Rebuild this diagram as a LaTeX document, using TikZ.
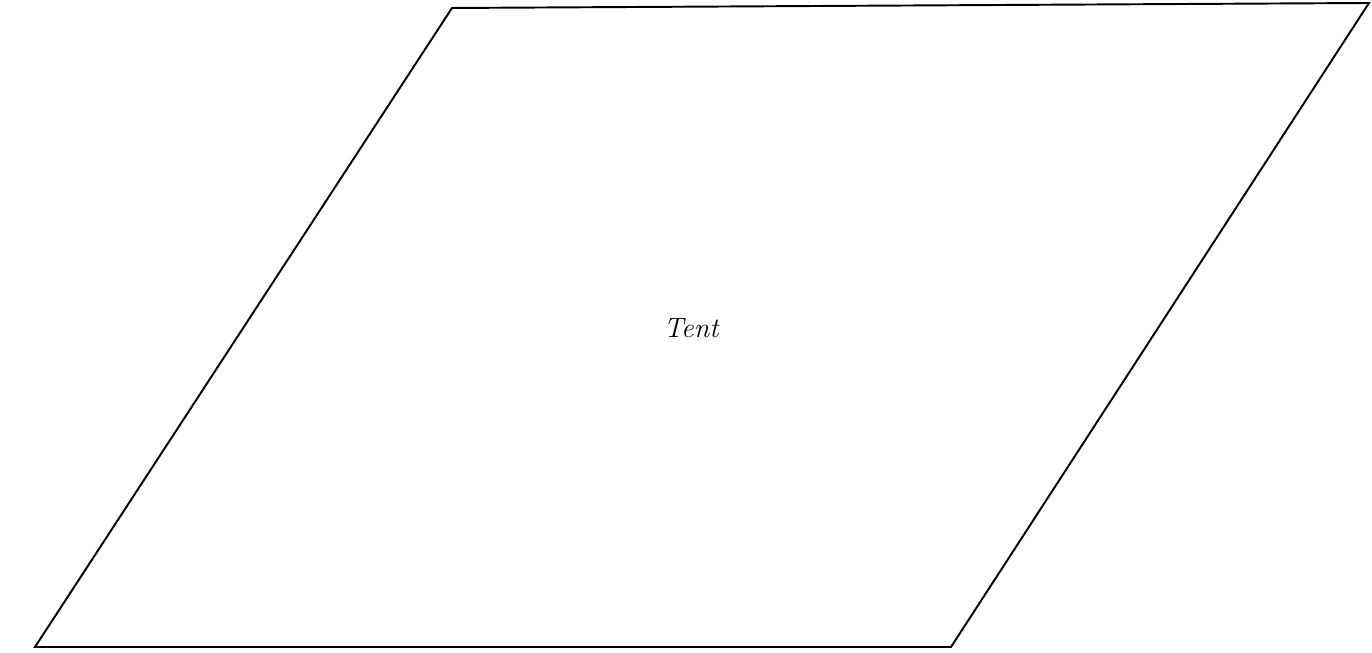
\documentclass[tikz,border=0pt]{standalone}
\usepackage{tikz}
\usetikzlibrary{positioning}
\tikzset{
  outline/.style={draw=black, line width=1.1pt, line join=miter},
  lbl/.style={font=\fontsize{16}{19}\selectfont\itshape}
}
\begin{document}
\begin{tikzpicture}
\useasboundingbox (0,0) rectangle (27.44,13.06);
% ---- tent outline ----
\coordinate (bl) at (0.70,0.12);
\coordinate (br) at (19.02,0.12);
\coordinate (tr) at (27.38,13.00);
\coordinate (tl) at (9.04,12.90);
\draw[outline] (bl) -- (br) -- (tr) -- (tl) -- cycle;
\node[lbl] (tent) at (13.82,6.50) {Tent};
\end{tikzpicture}
\end{document}
